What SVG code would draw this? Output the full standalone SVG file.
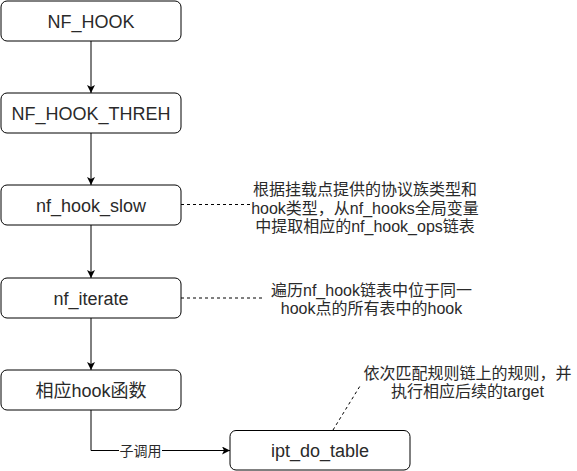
<svg xmlns="http://www.w3.org/2000/svg" width="577" height="471" viewBox="0 0 577 471">
<style>
  .box { fill: #ffffff; stroke: #000000; stroke-width: 1; }
  .lbl { font-family: "Liberation Sans", "Noto Sans CJK SC", Arial, sans-serif; font-size: 18px; fill: #2a2a2a; text-anchor: middle; }
  .note { font-family: "Liberation Sans", "Noto Sans CJK SC", Arial, sans-serif; font-size: 16px; fill: #2a2a2a; text-anchor: middle; }
  .elbl { font-family: "Liberation Sans", "Noto Sans CJK SC", Arial, sans-serif; font-size: 14px; fill: #2a2a2a; text-anchor: middle; }
  .edge { fill: none; stroke: #000000; stroke-width: 1; }
  .dash { fill: none; stroke: #000000; stroke-width: 1; stroke-dasharray: 3 3; }
</style>
<defs>
  <marker id="arrow" viewBox="0 0 10 10" refX="10" refY="5" markerWidth="8" markerHeight="8" markerUnits="userSpaceOnUse" orient="auto">
    <path d="M0,0 L10,5 L0,10 L2.5,5 Z" fill="#000000"/>
  </marker>
</defs>
<rect width="577" height="471" fill="#ffffff"/>
<g id="connectors">
  <line class="edge" x1="91" y1="41" x2="91" y2="93" marker-end="url(#arrow)"/>
  <line class="edge" x1="91" y1="133" x2="91" y2="185" marker-end="url(#arrow)"/>
  <line class="edge" x1="91" y1="225" x2="91" y2="278" marker-end="url(#arrow)"/>
  <line class="edge" x1="91" y1="318" x2="91" y2="370" marker-end="url(#arrow)"/>
  <polyline class="edge" points="91,410 91,450.5 230,450.5" marker-end="url(#arrow)"/>
  <rect x="119" y="441" width="43" height="18" fill="#ffffff"/>
  <text class="elbl" x="140.5" y="456">子调用</text>
  <line class="dash" x1="181" y1="204.5" x2="250" y2="204.5"/>
  <line class="dash" x1="181" y1="298" x2="263" y2="298"/>
  <line class="dash" x1="333" y1="430" x2="360" y2="386"/>
</g>
<g id="node-nf-hook">
  <rect class="box" x="1" y="1" width="180" height="40" rx="6"/>
  <text class="lbl" x="91" y="27.5">NF_HOOK</text>
</g>
<g id="node-nf-hook-threh">
  <rect class="box" x="1" y="93" width="180" height="40" rx="6"/>
  <text class="lbl" x="91" y="119.5">NF_HOOK_THREH</text>
</g>
<g id="node-nf-hook-slow">
  <rect class="box" x="1" y="185" width="180" height="40" rx="6"/>
  <text class="lbl" x="91" y="211.5">nf_hook_slow</text>
</g>
<g id="node-nf-iterate">
  <rect class="box" x="1" y="278" width="180" height="40" rx="6"/>
  <text class="lbl" x="91" y="304.5">nf_iterate</text>
</g>
<g id="node-hook-func">
  <rect class="box" x="1" y="370" width="180" height="40" rx="6"/>
  <text class="lbl" x="91" y="396.5">相应hook函数</text>
</g>
<g id="node-ipt-do-table">
  <rect class="box" x="230" y="430.5" width="180" height="39.5" rx="6"/>
  <text class="lbl" x="320" y="457">ipt_do_table</text>
</g>
<g id="note-1">
  <text class="note" x="365" y="195">根据挂载点提供的协议族类型和</text>
  <text class="note" x="365" y="213.5">hook类型，从nf_hooks全局变量</text>
  <text class="note" x="365" y="232">中提取相应的nf_hook_ops链表</text>
</g>
<g id="note-2">
  <text class="note" x="371.5" y="296">遍历nf_hook链表中位于同一</text>
  <text class="note" x="371.5" y="314">hook点的所有表中的hook</text>
</g>
<g id="note-3">
  <text class="note" x="467.5" y="379">依次匹配规则链上的规则，并</text>
  <text class="note" x="467.5" y="397">执行相应后续的target</text>
</g>
</svg>
